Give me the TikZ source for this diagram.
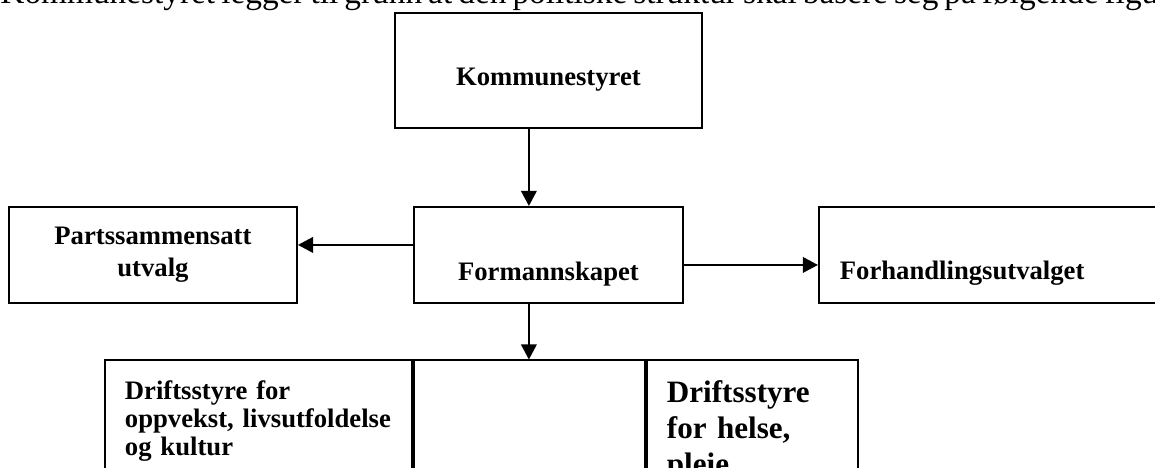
\documentclass[tikz,border=0pt]{standalone}
\usepackage{fontspec}
\setmainfont{Liberation Serif}
\usetikzlibrary{arrows.meta, positioning}

\begin{document}
\begin{tikzpicture}[
    orgbox/.style={rectangle, draw=black, line width=0.9pt, inner sep=0pt,
                   font=\fontsize{12}{14.4}\selectfont\bfseries},
    cell/.style={rectangle, draw=black, line width=0.9pt, inner sep=9pt,
                 align=left, font=\fontsize{12}{12.6}\selectfont\bfseries},
    arr/.style={-{Triangle[length=6.8pt, width=7pt]}, line width=0.9pt}
  ]
  % page cut as in the scan
  \useasboundingbox (0,0) rectangle (519.75pt,-210.6pt);
  \clip (0,0) rectangle (519.75pt,-210.6pt);

  % running text above the figure
  \node[anchor=base west, inner sep=0pt, font=\fontsize{15}{17}\selectfont] (intro) at (0pt,-1.8pt)
    {\makebox[526pt][s]{Kommunestyret legger til grunn at den politiske struktur skal basere seg på følgende figur}};

  % top and middle row
  \node[orgbox, minimum width=138.15pt, minimum height=51.75pt,
        text height=18pt, text depth=4pt] (komm) at (246.8pt,-31.7pt) {Kommunestyret};
  \node[orgbox, below=34.65pt of komm, minimum width=121.05pt, minimum height=43.2pt,
        text height=25.4pt, text depth=2pt] (form) {Formannskapet};
  \node[orgbox, left=51.75pt of form, minimum width=129.6pt, minimum height=43.2pt,
        align=center] (parts) {Partssammensatt\\utvalg};
  \node[orgbox, right=60.3pt of form, inner xsep=9.45pt, text width=143.1pt,
        minimum height=43.2pt, align=left,
        text height=24pt, text depth=2pt] (forh) {Forhandlingsutvalget};

  % bottom row, three cells side by side
  \node[cell, below=25pt of form.south west, anchor=north west, inner sep=0pt,
        minimum width=103.95pt, minimum height=60pt] (b2) {};
  \node[cell, anchor=north east, text width=120.15pt] (b1) at (b2.north west)
    {Driftsstyre for\\oppvekst, livsutfoldelse\\og kultur};
  \node[cell, anchor=north west, text width=76.95pt,
        font=\fontsize{14}{16.2}\selectfont\bfseries] (b3) at (b2.north east)
    {Driftsstyre\\for helse,\\pleie};

  % Arrows
  \draw[arr] ([xshift=-8.8pt]komm.south) -- ([xshift=-8.8pt]form.north);
  \draw[arr] ([yshift=4.5pt]form.west) -- ([yshift=4.5pt]form.west -| parts.east);
  \draw[arr] ([yshift=-4.5pt]form.east) -- ([yshift=-4.5pt]form.east -| forh.west);
  \draw[arr] ([xshift=-8.8pt]form.south) -- ([xshift=-8.8pt]form.south |- b2.north);

\end{tikzpicture}
\end{document}
